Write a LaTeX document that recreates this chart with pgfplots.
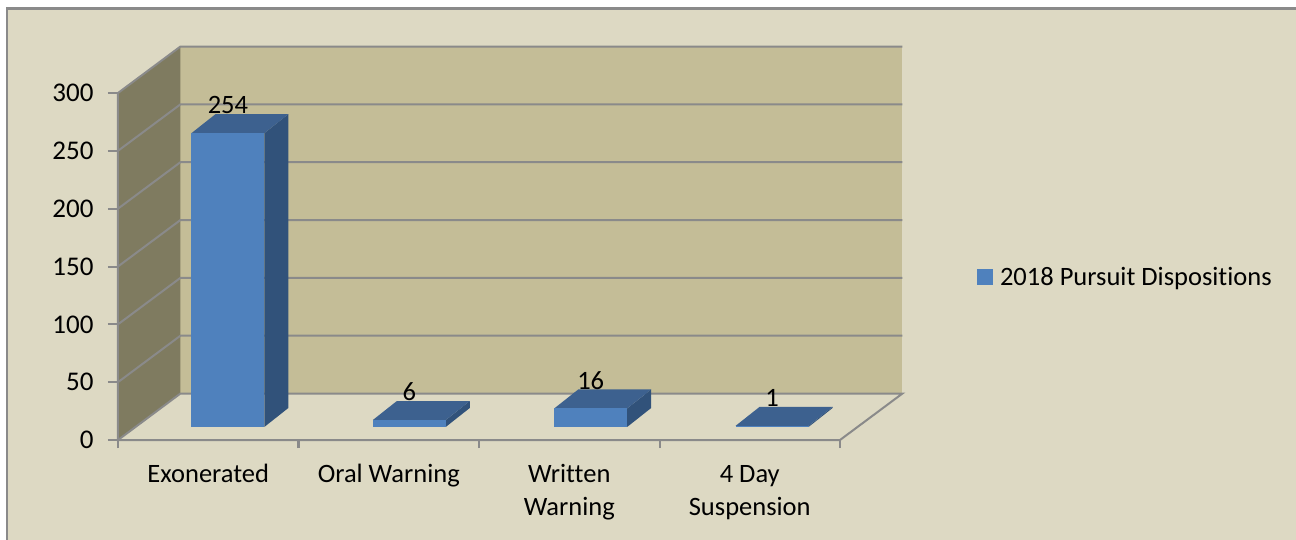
\documentclass[border=0pt]{standalone}
\usepackage{fontspec}
\setmainfont[Ligatures=NoCommon]{Carlito}
\usepackage{pgfplots}
\pgfplotsset{compat=1.18}

\definecolor{chartbg}{HTML}{DDD9C3}
\definecolor{backwall}{HTML}{C4BD97}
\definecolor{sidewall}{HTML}{7F7B60}
\definecolor{gridgrey}{HTML}{8A8A8A}
\definecolor{barfront}{HTML}{4F81BD}
\definecolor{bartop}{HTML}{3D618F}
\definecolor{barside}{HTML}{31527A}

% Depth of the box in axis units
\def\depthx{0.346}
\def\depthy{40.2}

% Keeps the first line of every category label on one baseline
\newcommand{\firstline}{\rule{0pt}{19pt}}

% \drawbar{category index}{value}: a box with its three visible faces and a value label
\newcommand{\drawbar}[2]{%
  \pgfmathsetmacro{\xa}{#1*1.005+0.407}%
  \pgfmathsetmacro{\xb}{\xa+0.404}%
  \pgfmathsetmacro{\xc}{\xa+0.133}%
  \pgfmathsetmacro{\xd}{\xb+0.133}%
  \pgfmathsetmacro{\ya}{11.3}%
  \pgfmathsetmacro{\yb}{11.3+#2}%
  \pgfmathsetmacro{\yc}{\ya+16.4}%
  \pgfmathsetmacro{\yd}{\yb+16.4}%
  \pgfmathsetmacro{\xm}{(\xa+\xb)/2}%
  \pgfmathsetmacro{\yl}{\yb+24.2}%
  \edef\faces{%
    \noexpand\addplot[forget plot,fill=barside,draw=none] coordinates {(\xb,\ya) (\xd,\yc) (\xd,\yd) (\xb,\yb)} -- cycle;
    \noexpand\addplot[forget plot,fill=bartop,draw=none] coordinates {(\xa,\yb) (\xb,\yb) (\xd,\yd) (\xc,\yd)} -- cycle;
    \noexpand\addplot[forget plot,fill=barfront,draw=none] coordinates {(\xa,\ya) (\xb,\ya) (\xb,\yb) (\xa,\yb)} -- cycle;
    \noexpand\node[font=\noexpand\fontsize{26.5}{30}\noexpand\selectfont] at (axis cs:\xm,\yl) {#2};
  }%
  \faces
}

\begin{document}
\begin{tikzpicture}
\begin{axis}[
  scale only axis,
  width=722pt,
  height=347pt,
  xmin=0, xmax=4,
  ymin=0, ymax=300,
  clip=false,
  axis on top,
  axis line style={draw=none},
  tick align=outside,
  xtick pos=bottom,
  ytick pos=left,
  xtick={0.5,1.5,2.5,3.5},
  xticklabels={\firstline Exonerated,\firstline Oral Warning,\firstline Written\\Warning,\firstline 4 Day\\Suspension},
  minor xtick={0,1,2,3,4},
  ytick={0,50,...,300},
  major tick length=10pt,
  minor tick length=8pt,
  major x tick style={draw=none},
  minor x tick style={draw=gridgrey,line width=2pt},
  major y tick style={draw=gridgrey,line width=2pt},
  /pgf/number format/assume math mode=true,
  xticklabel style={font=\fontsize{26.5}{33}\selectfont,align=center,anchor=north,yshift=-10pt},
  yticklabel style={font=\fontsize{27}{30}\selectfont,anchor=east,xshift=-11pt},
  legend style={
    at={(axis cs:4.756,141)},anchor=west,draw=none,fill=none,
    font=\fontsize{26.5}{30}\selectfont,
    inner sep=0pt,
    legend cell align=left,
  },
]
  % Page and chart area
  \fill[white] (axis cs:-0.66,-87) rectangle (axis cs:6.53,382);
  \fill[chartbg] (axis cs:-0.615,-90) rectangle (axis cs:6.6,373);
  \draw[gridgrey,line width=2.5pt] (axis cs:-0.615,-90) -- (axis cs:-0.615,373) -- (axis cs:6.6,373);

  % Walls of the box
  \fill[backwall] (axis cs:\depthx,\depthy) rectangle (axis cs:4+\depthx,300+\depthy);
  \fill[sidewall] (axis cs:0,0) -- (axis cs:\depthx,\depthy) -- (axis cs:\depthx,300+\depthy) -- (axis cs:0,300) -- cycle;

  % Grid lines on both walls
  \pgfplotsinvokeforeach{50,100,...,300}{
    \draw[gridgrey,line width=2pt] (axis cs:0,#1) -- (axis cs:\depthx,#1+\depthy) -- (axis cs:4+\depthx,#1+\depthy);
  }

  % Outline of the floor and the vertical axis
  \draw[gridgrey,line width=2pt] (axis cs:0,300) -- (axis cs:0,0) -- (axis cs:4,0) -- (axis cs:4+\depthx,\depthy) -- (axis cs:\depthx,\depthy) -- (axis cs:0,0);

  \drawbar{0}{254}
  \drawbar{1}{6}
  \drawbar{2}{16}
  \drawbar{3}{1}

  \addlegendimage{legend image code/.code={\fill[barfront] (0pt,-7.5pt) rectangle (15pt,7.5pt); \path (21pt,0pt);}}
  \addlegendentry{2018 Pursuit Dispositions}
\end{axis}
\pgfresetboundingbox
\path[use as bounding box] (-118pt,-99pt) rectangle (1178pt,440pt);
\end{tikzpicture}
\end{document}
